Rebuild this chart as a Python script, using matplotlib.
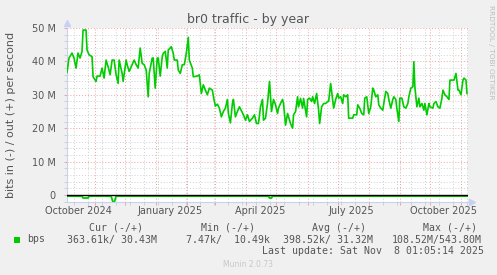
import numpy as np
import matplotlib
matplotlib.use('Agg')
import matplotlib.pyplot as plt
import matplotlib.dates as mdates
from datetime import datetime, timedelta

# graph window (400 days, ends at last update)
start = datetime(2024, 10, 4, 1, 5)
end = datetime(2025, 11, 8, 1, 5)

# out (+), Mbit/s; days counted from start
out_days = [0, 2, 5, 7, 9, 11, 13, 15, 16, 19, 20, 22, 25, 26, 29, 30, 33, 35, 37, 39,
            41, 43, 45, 47, 49, 51, 52, 55, 56, 59, 60, 62, 65, 67, 69, 71, 73, 75, 77, 79,
            81, 82, 85, 86, 88, 90, 91, 93, 95, 96, 98, 100, 101, 104, 106, 107, 110, 111, 113, 115,
            117, 119, 121, 122, 125, 126, 130, 132, 134, 136, 138, 140, 142, 145, 146, 148, 150, 152, 154, 156,
            158, 160, 161, 163, 165, 166, 168, 170, 172, 176, 178, 180, 182, 185, 187, 189, 191, 193, 195, 196,
            198, 200, 202, 204, 206, 208, 210, 211, 213, 215, 216, 218, 220, 221, 223, 225, 226, 228, 230, 231,
            233, 235, 236, 239, 240, 242, 244, 245, 247, 249, 251, 252, 254, 256, 258, 260, 261, 263, 265, 266,
            268, 270, 271, 273, 275, 276, 278, 280, 281, 282, 285, 286, 289, 290, 292, 294, 296, 297, 299, 301,
            303, 305, 306, 308, 310, 311, 313, 315, 316, 318, 320, 321, 323, 325, 326, 328, 329, 331, 332, 334,
            336, 338, 340, 341, 343, 345, 346, 347, 349, 351, 352, 354, 356, 357, 359, 361, 362, 365, 366, 368,
            370, 372, 374, 375, 377, 379, 381, 382, 385, 386, 388, 390, 391, 393, 395, 396, 398, 399]
out_mbps = [36.7, 41, 42.5, 41, 38, 42.5, 41, 43, 49.4, 49.4, 43.4, 42, 41.4, 35.4, 34, 35.6, 35.6, 38, 35, 40.4,
            38.4, 36, 40.4, 40.4, 36, 33.4, 40.4, 36.4, 34, 40.4, 39, 37, 39, 40.4, 39, 38, 44, 39.4, 39, 37.4,
            29.4, 36.4, 41, 41, 32, 41, 41, 35.6, 41.4, 42.4, 43, 38, 43.4, 44.4, 42.4, 40.4, 40.4, 37.4, 36.4, 39,
            39, 42.4, 47.2, 40.4, 38, 35.4, 35.6, 36, 30.4, 33, 31.4, 30, 32, 31.4, 29.6, 26.6, 27.2, 26, 23.4, 25,
            26, 28.6, 24.4, 21.6, 27.4, 28.6, 23.4, 25, 26.4, 24, 22.4, 24, 22, 23, 24, 21.4, 21.4, 26.4, 28.6, 22.4,
            23, 27.4, 34, 25, 28.6, 27, 24.4, 26, 27.4, 28.6, 27.4, 20.9, 24.4, 23.4, 21.4, 20, 24, 25, 29.4, 26.4,
            28.9, 26, 28.9, 23.4, 28.6, 29, 28, 29.4, 27.4, 30.4, 25.4, 21.4, 26.4, 27.4, 27.4, 28, 28, 33.4, 28.6, 26,
            28.6, 30.4, 29, 29.4, 27.4, 30, 29.4, 30, 23, 23, 23, 24, 24, 27, 26, 24.4, 24, 29, 29.4, 24.4,
            26.4, 32, 31.4, 29.4, 30, 27, 26, 25.4, 27.4, 31, 30.4, 28.6, 26, 28.6, 29.4, 28.6, 26, 22, 29, 29,
            26.4, 26, 27.4, 29.4, 32, 32.4, 39.9, 32.4, 26.4, 29, 26.4, 27.4, 25.4, 27.4, 24, 27.4, 26.4, 26, 27.4, 28,
            26.4, 26, 29, 31.4, 30, 29.4, 28.6, 34.4, 34.4, 34.4, 36.4, 31.4, 31.4, 30, 34.4, 35, 34.4, 30.4]

# in (-), drawn below zero
in_days = [0, 15, 16, 21, 22, 44, 46, 47, 49, 201, 202, 204, 205, 399]
in_mbps = [-0.35, -0.35, -0.9, -0.9, -0.35, -0.35, -2.3, -2.3, -0.35, -0.35, -0.9, -0.9, -0.35, -0.35]

label_dates = [datetime(2024, 10, 15), datetime(2025, 1, 15), datetime(2025, 4, 15),
               datetime(2025, 7, 15), datetime(2025, 10, 15)]
label_texts = ['October 2024', 'January 2025', 'April 2025', 'July 2025', 'October 2025']
ytick_vals = [0, 10, 20, 30, 40, 50]
ytick_labels = ['0', '10 M', '20 M', '30 M', '40 M', '50 M']

legend_heads = ['Cur (-/+)', 'Min (-/+)', 'Avg (-/+)', 'Max (-/+)']
legend_vals = ['363.61k/ 30.43M', '  7.47k/  10.49k', '398.52k/ 31.32M', '108.52M/543.80M']

W, H = 497, 275
GREEN = '#00cc00'
FONT_C = '#555555'
MGRID = '#f2a0a0'
GRID = '#cfcfcf'
AXIS_C = '#c8d0f4'


def fx(px):
    return px / W


def fy(py):
    return 1 - py / H


fig = plt.figure(figsize=(W / 100, H / 100), dpi=100, facecolor='#f0f0f0')
ax = fig.add_axes([fx(67), fy(202), fx(468) - fx(67), fy(28) - fy(202)])
ax.set_facecolor('white')

t0 = mdates.date2num(start)
ax.plot(t0 + np.array(in_days), in_mbps, color=GREEN, lw=1.3, zorder=3)
ax.plot(t0 + np.array(out_days), out_mbps, color=GREEN, lw=1.2, zorder=3)
ax.axhline(0, color='black', lw=1.0, zorder=4)

ax.set_xlim(start, end)
ax.set_ylim(-2.1, 50)

# grid: red monthly / 10M, gray every 2 weeks / 2M
ax.xaxis.set_major_locator(mdates.MonthLocator())
minor_dates = [datetime(2024, 10, 11) + timedelta(days=14 * i) for i in range(30)]
ax.set_xticks([d for d in minor_dates if d < end], minor=True)
ax.set_yticks(ytick_vals)
ax.set_yticklabels(ytick_labels)
ax.set_yticks(np.arange(-2, 50, 2), minor=True)
ax.set_xticklabels([])

ax.set_axisbelow(True)
ax.grid(which='major', color=MGRID, linestyle=(0, (1, 2)), lw=0.7)
ax.grid(which='minor', color=GRID, linestyle=(0, (1, 2)), lw=0.7)

ax.tick_params(axis='both', which='major', length=2, color=MGRID, width=0.7)
ax.tick_params(axis='both', which='minor', length=2, color=GRID, width=0.7)
ax.tick_params(axis='y', which='major', labelsize=7, labelcolor=FONT_C, pad=6)

for s in ['top', 'right']:
    ax.spines[s].set_visible(False)
for s in ['left', 'bottom']:
    ax.spines[s].set_color(AXIS_C)
    ax.spines[s].set_linewidth(0.8)

# axis arrows
ax.plot([0], [1 + 4.5 / 174], marker='^', ms=4, color=AXIS_C, transform=ax.transAxes, clip_on=False)
ax.plot([1 + 3.5 / 401], [0], marker='>', ms=4, color=AXIS_C, transform=ax.transAxes, clip_on=False)

for d, txt in zip(label_dates, label_texts):
    ax.text(mdates.date2num(d), -9.5 / 174, txt, transform=ax.get_xaxis_transform(),
            ha='center', va='center', fontsize=7, color=FONT_C)

fig.text(fx(248), fy(20), 'br0 traffic - by year', ha='center', va='center', fontsize=9, color=FONT_C)
fig.text(fx(11), fy(115), 'bits in (-) / out (+) per second', rotation=90,
         ha='center', va='center', fontsize=8, color=FONT_C)
fig.text(fx(491), fy(52), 'RRDTOOL / TOBI OETIKER', rotation=270,
         ha='center', va='center', fontsize=5.3, color='#bdbdbd')

# legend block
mono = 'DejaVu Sans Mono'
for px, txt in zip([89, 200.7, 312, 422.7], legend_heads):
    fig.text(fx(px), fy(228), txt, ha='left', va='center', fontsize=7.1, family=mono, color=FONT_C)
for px, txt in zip([66.7, 174, 283, 391.7], legend_vals):
    fig.text(fx(px), fy(239.5), txt, ha='left', va='center', fontsize=7.1, family=mono, color=FONT_C)
fig.patches.append(plt.Rectangle((fx(14), fy(242.5)), fx(6), 6 / H, transform=fig.transFigure,
                                 facecolor=GREEN, edgecolor='none'))
fig.text(fx(26.7), fy(239.5), 'bps', ha='left', va='center', fontsize=7.1, family=mono, color=FONT_C)
fig.text(fx(261.7), fy(251), 'Last update: Sat Nov  8 01:05:14 2025', ha='left', va='center',
         fontsize=7.1, family=mono, color=FONT_C)
fig.text(fx(248), fy(264.5), 'Munin 2.0.73', ha='center', va='center', fontsize=5.5, color='#c8c8c8')

fig.savefig('out.png', dpi=100, facecolor=fig.get_facecolor())
